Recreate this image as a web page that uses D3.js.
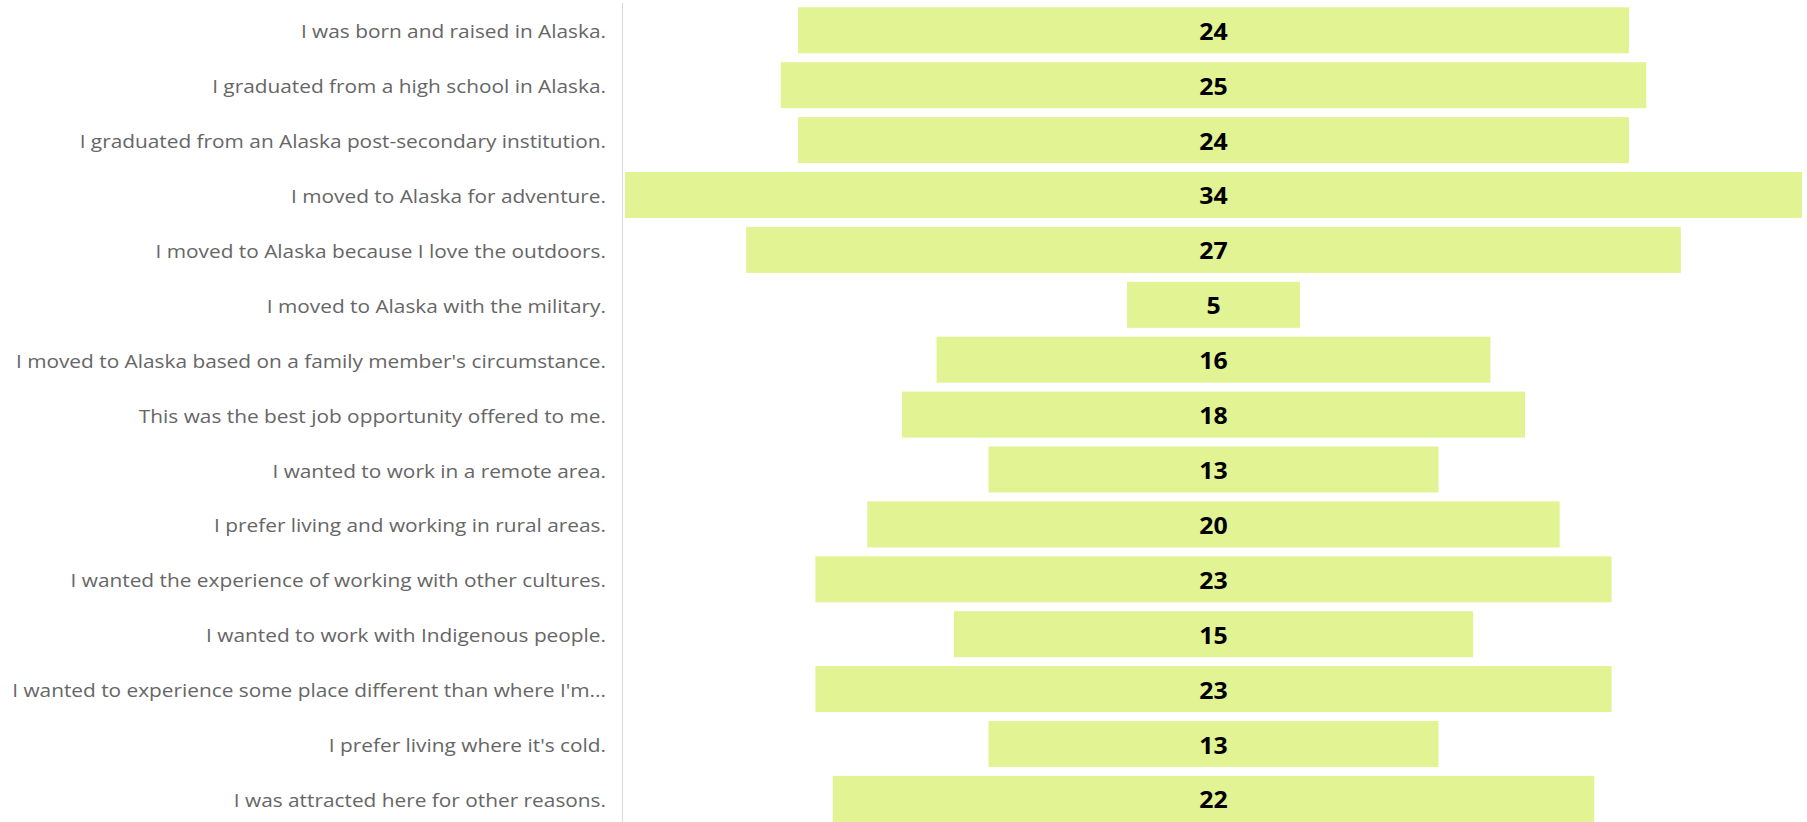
<!DOCTYPE html>
<html>
<head>
<meta charset="utf-8">
<script src="https://cdn.jsdelivr.net/npm/d3@7"></script>
<style>
  body { margin: 0; background: #fff; overflow: hidden; }
  svg { display: block; }
</style>
</head>
<body>
<svg id="canvas" width="1807" height="822"></svg>
<script>
let reasons = [
    "I was born and raised in Alaska.",
    "I graduated from a high school in Alaska.",
    "I graduated from an Alaska post-secondary institution.",
    "I moved to Alaska for adventure.",
    "I moved to Alaska because I love the outdoors.",
    "I moved to Alaska with the military.",
    "I moved to Alaska based on a family member's circumstance.",
    "This was the best job opportunity offered to me.",
    "I wanted to work in a remote area.",
    "I prefer living and working in rural areas.",
    "I wanted the experience of working with other cultures.",
    "I wanted to work with Indigenous people.",
    "I wanted to experience some place different than where I'm...",
    "I prefer living where it's cold.",
    "I was attracted here for other reasons."
]

let counts = [24, 25, 24, 34, 27, 5, 16, 18, 13, 20, 23, 15, 23, 13, 22]

let rows = reasons.map((r, i) => ({ reason: r, count: counts[i] }))

let canvas = d3.select("#canvas")

// funnel: bars are centred on one line, width follows the count
let axisX = 622
let plotLeft = 625
let plotRight = 1802
let centre = (plotLeft + plotRight) / 2
let stretch = 1.145   // the source text is a bit wider than Open Sans

let widthScale = d3.scaleLinear()
    .domain([0, d3.max(counts)])
    .range([0, plotRight - plotLeft])

let yScale = d3.scaleBand()
    .domain(reasons)
    .range([-1.6, 830.8])
    .padding(0.162)

let mid = d => yScale(d.reason) + yScale.bandwidth() / 2

canvas.append("line")
    .attr("x1", axisX + 0.5)
    .attr("x2", axisX + 0.5)
    .attr("y1", 3)
    .attr("y2", 822)
    .attr("stroke", "#d9d9d9")
    .attr("stroke-width", 1)

let rowG = canvas.selectAll("g.row")
    .data(rows)
    .enter()
    .append("g")
    .attr("class", "row")

rowG.append("rect")
    .attr("x", d => centre - widthScale(d.count) / 2)
    .attr("y", d => yScale(d.reason))
    .attr("width", d => widthScale(d.count))
    .attr("height", yScale.bandwidth())
    .attr("fill", "#e2f393")

rowG.append("text")
    .attr("class", "label")
    .text(d => d.reason)
    .attr("transform", d => "translate(606," + (mid(d) + 8) + ") scale(" + stretch + ",1)")
    .attr("text-anchor", "end")
    .attr("fill", "#666666")
    .style("font-family", "'Open Sans', sans-serif")
    .style("font-size", "18.2px")

rowG.append("text")
    .attr("class", "value")
    .text(d => d.count)
    .attr("transform", d => "translate(" + centre + "," + (mid(d) + 9.5) + ") scale(1.08,1)")
    .attr("text-anchor", "middle")
    .attr("fill", "#000")
    .style("font-family", "'Open Sans', sans-serif")
    .style("font-weight", "bold")
    .style("font-size", "23px")
</script>
</body>
</html>
